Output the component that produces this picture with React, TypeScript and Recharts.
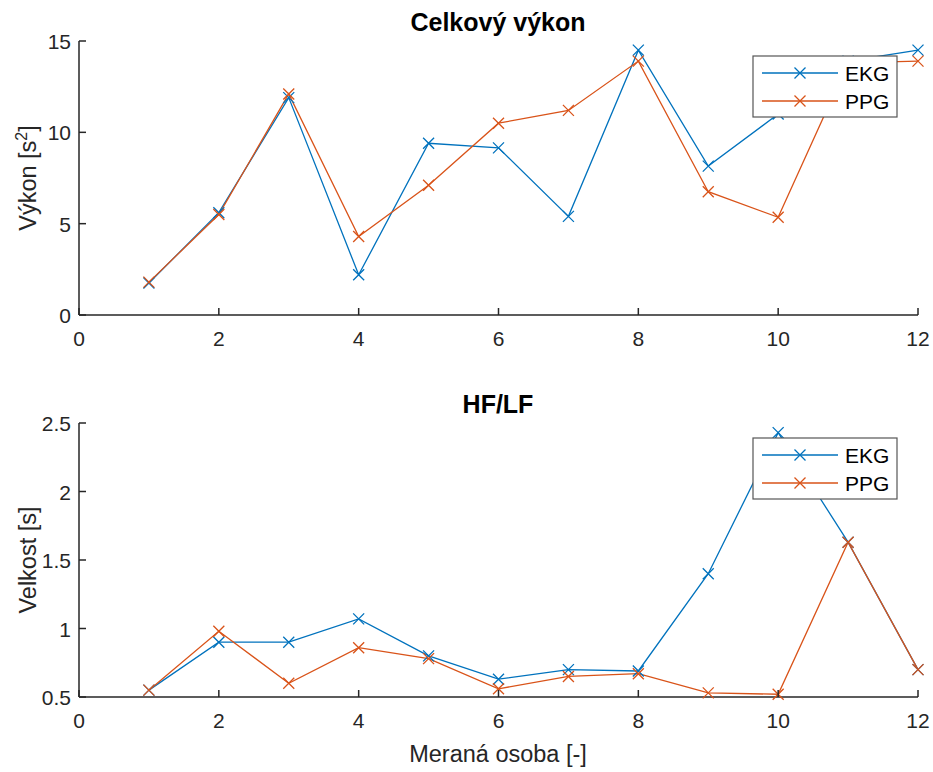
import { LineChart, Line, XAxis, YAxis } from 'recharts';

// měřené osoby 1..12
const persons = [1, 2, 3, 4, 5, 6, 7, 8, 9, 10, 11, 12];
const seriesNames = ['EKG', 'PPG'];
const seriesColors = ['#0072BD', '#D95319'];

// Celkový výkon [s^2]
const powerEkg = [1.75, 5.6, 11.9, 2.2, 9.4, 9.15, 5.4, 14.5, 8.15, 11.0, 13.9, 14.5];
const powerPpg = [1.8, 5.5, 12.1, 4.3, 7.1, 10.5, 11.2, 13.9, 6.75, 5.35, 13.8, 13.9];

// HF/LF [s]
const hfEkg = [0.55, 0.9, 0.9, 1.07, 0.8, 0.63, 0.7, 0.69, 1.4, 2.43, 1.63, 0.7];
const hfPpg = [0.55, 0.98, 0.6, 0.86, 0.78, 0.56, 0.65, 0.67, 0.53, 0.52, 1.63, 0.7];

const xTicks = [0, 2, 4, 6, 8, 10, 12];
const powerTicks = [0, 5, 10, 15];
const hfTicks = [0.5, 1, 1.5, 2, 2.5];

const FONT = '"Liberation Sans", Arial, sans-serif';
const AX = '#262626';
const TICK_LEN = 7;

const W = 933;
const H = 383;
const PANEL2_TOP = 382;
const MARGIN = { top: 41, right: 15, bottom: 28, left: 19 };

const XMark = (props: any) => {
  const { cx, cy, stroke } = props;
  if (cx == null || cy == null) return <g />;
  const s = 5.5;
  return (
    <path
      d={`M${cx - s},${cy - s}L${cx + s},${cy + s}M${cx - s},${cy + s}L${cx + s},${cy - s}`}
      stroke={stroke}
      strokeWidth={1.3}
      fill="none"
    />
  );
};

const BottomTick = ({ x, y, payload }: any) => (
  <g>
    <line x1={x} y1={y} x2={x} y2={y - TICK_LEN} stroke={AX} strokeWidth={1.5} />
    <text x={x} y={y + 31} textAnchor="middle" fontSize={21} fontFamily={FONT} fill={AX}>
      {payload.value}
    </text>
  </g>
);

const TopTick = ({ x, y }: any) => (
  <line x1={x} y1={y} x2={x} y2={y + TICK_LEN} stroke={AX} strokeWidth={1.5} />
);

const LeftTick = ({ x, y, payload }: any) => (
  <g>
    <line x1={x} y1={y} x2={x + TICK_LEN} y2={y} stroke={AX} strokeWidth={1.5} />
    <text x={x - 8} y={y + 8} textAnchor="end" fontSize={21} fontFamily={FONT} fill={AX}>
      {payload.value}
    </text>
  </g>
);

const RightTick = ({ x, y }: any) => (
  <line x1={x} y1={y} x2={x - TICK_LEN} y2={y} stroke={AX} strokeWidth={1.5} />
);

// legenda se kreslí nad čarami (MATLAB legend box)
const LegendBox = ({ top }: { top: number }) => (
  <g>
    <rect x={753} y={top + 56} width={144} height={61} fill="#fff" stroke="#555" strokeWidth={1.2} />
    {seriesNames.map((name, i) => {
      const ly = top + 73 + i * 28;
      return (
        <g key={name}>
          <line x1={762} y1={ly} x2={838} y2={ly} stroke={seriesColors[i]} strokeWidth={1.3} />
          <XMark cx={800} cy={ly} stroke={seriesColors[i]} />
          <text x={845} y={ly + 8} fontSize={21} fontFamily={FONT} fill="#000">
            {name}
          </text>
        </g>
      );
    })}
  </g>
);

interface PanelProps {
  title: string;
  yLabel: React.ReactNode;
  ekg: number[];
  ppg: number[];
  yTicks: number[];
}

const Panel = ({ title, yLabel, ekg, ppg, yTicks }: PanelProps) => {
  const data = persons.map((p, i) => ({ x: p, EKG: ekg[i], PPG: ppg[i] }));
  const domain = [yTicks[0], yTicks[yTicks.length - 1]];
  const plotBottom = H - MARGIN.bottom - 40;
  const midY = MARGIN.top + (plotBottom - MARGIN.top) / 2;
  return (
    <LineChart width={W} height={H} data={data} margin={MARGIN}>
      <XAxis
        dataKey="x"
        type="number"
        domain={[0, 12]}
        ticks={xTicks}
        height={40}
        tickSize={0}
        tickMargin={0}
        tickLine={false}
        axisLine={{ stroke: AX, strokeWidth: 1.5 }}
        tick={<BottomTick />}
      />
      <XAxis
        xAxisId="top"
        orientation="top"
        type="number"
        domain={[0, 12]}
        ticks={xTicks}
        height={0}
        tickSize={0}
        tickMargin={0}
        tickLine={false}
        axisLine={{ stroke: AX, strokeWidth: 1.5 }}
        tick={<TopTick />}
      />
      <YAxis
        type="number"
        domain={domain}
        ticks={yTicks}
        width={60}
        tickSize={0}
        tickMargin={0}
        tickLine={false}
        axisLine={{ stroke: AX, strokeWidth: 1.5 }}
        tick={<LeftTick />}
      />
      <YAxis
        yAxisId="right"
        orientation="right"
        type="number"
        domain={domain}
        ticks={yTicks}
        width={0}
        tickSize={0}
        tickMargin={0}
        tickLine={false}
        axisLine={{ stroke: AX, strokeWidth: 1.5 }}
        tick={<RightTick />}
      />
      {seriesNames.map((name, i) => (
        <Line
          key={name}
          dataKey={name}
          type="linear"
          stroke={seriesColors[i]}
          strokeWidth={1.3}
          dot={<XMark />}
          activeDot={false}
          isAnimationActive={false}
        />
      ))}
      <text x={498} y={31} textAnchor="middle" fontSize={25} fontWeight="bold" fontFamily={FONT} fill="#000">
        {title}
      </text>
      <text
        x={36}
        y={midY}
        transform={`rotate(-90 36 ${midY})`}
        textAnchor="middle"
        fontSize={23.5}
        fontFamily={FONT}
        fill={AX}
      >
        {yLabel}
      </text>
    </LineChart>
  );
};

export default function App() {
  return (
    <div style={{ position: 'absolute', left: 0, top: 0, width: 933, height: 772, background: '#fff' }}>
      <div style={{ position: 'absolute', left: 0, top: 0 }}>
        <Panel
          title="Celkový výkon"
          yLabel={
            <>
              <tspan>Výkon [s</tspan>
              <tspan dy={-9} fontSize={16}>2</tspan>
              <tspan dy={9}>]</tspan>
            </>
          }
          ekg={powerEkg}
          ppg={powerPpg}
          yTicks={powerTicks}
        />
      </div>
      <div style={{ position: 'absolute', left: 0, top: PANEL2_TOP }}>
        <Panel title="HF/LF" yLabel="Velkost [s]" ekg={hfEkg} ppg={hfPpg} yTicks={hfTicks} />
      </div>
      <svg
        width={933}
        height={772}
        style={{ position: 'absolute', left: 0, top: 0, pointerEvents: 'none' }}
      >
        <LegendBox top={0} />
        <LegendBox top={PANEL2_TOP} />
        <text x={498} y={762} textAnchor="middle" fontSize={23.5} fontFamily={FONT} fill={AX}>
          Meraná osoba [-]
        </text>
      </svg>
    </div>
  );
}
